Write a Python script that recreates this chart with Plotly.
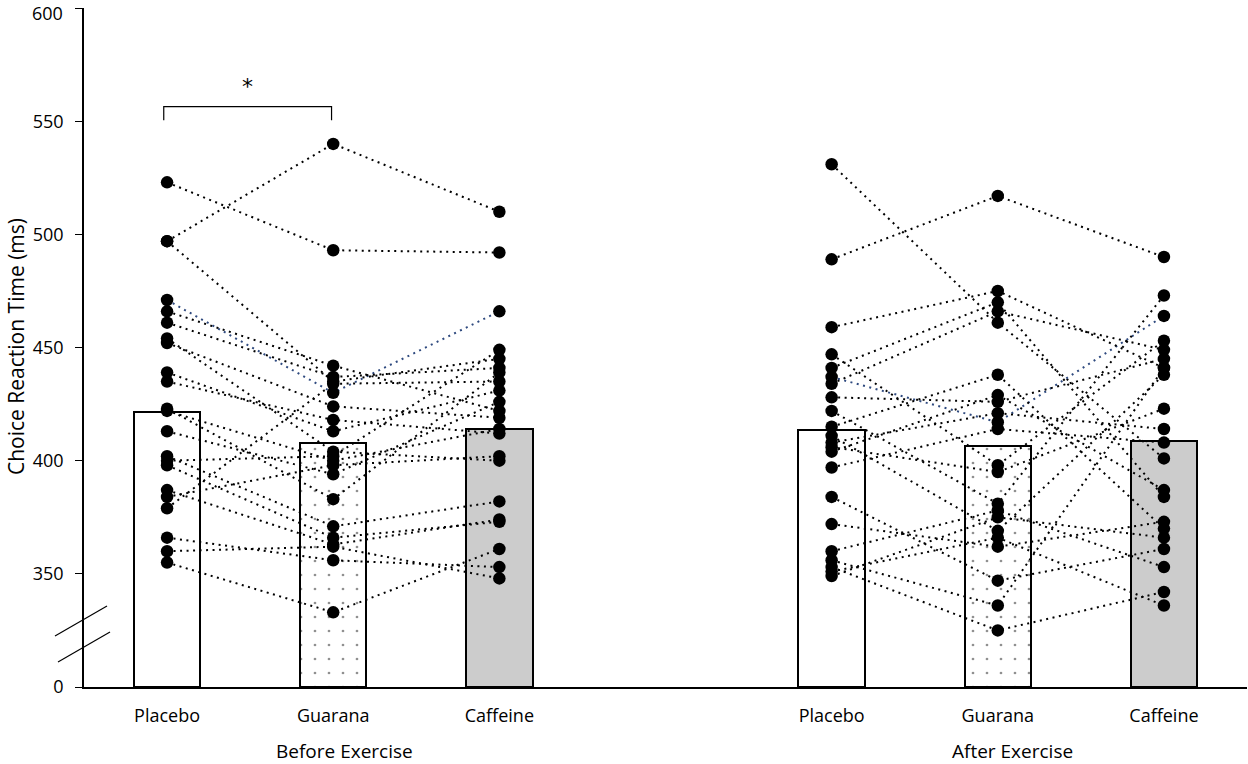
import plotly.graph_objects as go

# ---------------- data ----------------
treatments = ["Placebo", "Guarana", "Caffeine"]
phases = ["Before Exercise", "After Exercise"]
y_tick_values = [350, 400, 450, 500, 550, 600]
y_tick_labels = ["0", "350", "400", "450", "500", "550", "600"]

bar_before = [421.6, 407.9, 414.0]
bar_after = [413.6, 406.5, 408.7]

before_placebo = [523, 497, 497, 471, 466, 461, 454, 452, 439, 435, 423, 422, 413, 402, 400, 398, 387, 384, 379, 366, 360, 355]
before_guarana = [493, 540, 435, 430, 442, 437, 404, 424, 413, 418, 383, 400, 394, 371, 402, 366, 363, 398, 434, 356, 362, 333]
before_caffeine = [492, 510, 445, 466, 422, 441, 400, 419, 431, 412, 439, 414, 426, 382, 449, 373, 374, 402, 435, 353, 348, 361]

after_placebo = [531, 489, 437, 459, 447, 441, 434, 428, 422, 415, 411, 408, 406, 404, 397, 384, 372, 360, 356, 353, 351, 349]
after_guarana = [461, 517, 417, 475, 398, 470, 466, 426, 381, 438, 369, 421, 395, 429, 414, 347, 362, 378, 336, 325, 366, 375]
after_caffeine = [401, 490, 464, 441, 453, 384, 449, 445, 473, 370, 438, 414, 423, 387, 408, 361, 373, 353, 441, 342, 336, 366]

# subject highlighted in blue (index) per phase
blue_before = 3
blue_after = 2

significance = {"from": "Placebo", "to": "Guarana", "y": 556.5, "label": "*"}

# ---------------- layout helpers ----------------
BASE = 300  # value at which the broken axis shows "0"
pos_before = [0, 1, 2]
pos_after = [4, 5, 6]
FONT = "Open Sans"

fig = go.Figure()

bar_styles = [
    dict(color="white", line=dict(color="black", width=2)),
    dict(color="white", line=dict(color="black", width=2),
         pattern=dict(shape=".", size=14, solidity=0.03, fgcolor="#222222", bgcolor="white")),
    dict(color="#cccccc", line=dict(color="black", width=2)),
]

for positions, vals in [(pos_before, bar_before), (pos_after, bar_after)]:
    for i in range(3):
        fig.add_trace(go.Bar(
            x=[positions[i]], y=[vals[i] - BASE], base=[BASE], width=0.4,
            marker=bar_styles[i], showlegend=False, hoverinfo="skip"))


def add_subject_lines(positions, p, g, c, blue_idx):
    for k in range(len(p)):
        col = "#2F4A7F" if k == blue_idx else "black"
        fig.add_trace(go.Scatter(
            x=positions, y=[p[k], g[k], c[k]], mode="lines",
            line=dict(color=col, width=2, dash="2px,4.5px"),
            showlegend=False, hoverinfo="skip"))
    for k in range(len(p)):
        fig.add_trace(go.Scatter(
            x=positions, y=[p[k], g[k], c[k]], mode="markers",
            marker=dict(color="black", size=12.5),
            showlegend=False, hoverinfo="skip"))


add_subject_lines(pos_before, before_placebo, before_guarana, before_caffeine, blue_before)
add_subject_lines(pos_after, after_placebo, after_guarana, after_caffeine, blue_after)

# significance bracket
x0 = pos_before[treatments.index(significance["from"])] - 0.02
x1 = pos_before[treatments.index(significance["to"])] - 0.01
ys = significance["y"]
fig.add_trace(go.Scatter(
    x=[x0, x0, x1, x1], y=[ys - 6, ys, ys, ys - 6], mode="lines",
    line=dict(color="black", width=1.2), showlegend=False, hoverinfo="skip"))
fig.add_annotation(x=(x0 + x1) / 2, y=ys + 9, text=significance["label"], showarrow=False,
                   font=dict(family="DejaVu Sans", size=22, color="black"))

# axis-break marks (pixel positions converted to paper space)
PLOT_L, PLOT_R, PLOT_T, PLOT_B = 84, 1247, 8, 687
W, H = PLOT_R - PLOT_L, PLOT_B - PLOT_T


def px2paper(xp, yp):
    return (xp - PLOT_L) / W, (PLOT_B - yp) / H


for (ax, ay), (bx, by) in [((55, 636), (107, 606)), ((58, 662), (110, 632))]:
    p0 = px2paper(ax, ay)
    p1 = px2paper(bx, by)
    fig.add_shape(type="line", xref="paper", yref="paper",
                  x0=p0[0], y0=p0[1], x1=p1[0], y1=p1[1],
                  line=dict(color="black", width=1.2))

# top tick label placed as annotation so it is not clipped at the page edge
fig.add_annotation(x=px2paper(64, 0)[0], y=px2paper(0, 0)[1], xref="paper", yref="paper",
                   text=y_tick_labels[-1], showarrow=False, xanchor="right", yanchor="top",
                   borderpad=0, font=dict(family=FONT, size=18, color="black"))
tick_text_axis = y_tick_labels[:-1] + [""]

# group labels
for positions, label, dx in [(pos_before, phases[0], 0.07), (pos_after, phases[1], 0.09)]:
    fig.add_annotation(x=positions[1] + dx, y=px2paper(0, 751)[1], xref="x", yref="paper",
                       text=label, showarrow=False, yanchor="middle", xanchor="center",
                       font=dict(family=FONT, size=19, color="black"))

# y axis title
fig.add_annotation(x=px2paper(16, 0)[0], y=px2paper(0, 347)[1], xref="paper", yref="paper",
                   text="Choice Reaction Time (ms)", textangle=-90, showarrow=False,
                   xanchor="center", yanchor="middle", borderpad=0,
                   font=dict(family=FONT, size=21, color="black"))

fig.update_layout(
    width=1248, height=764,
    margin=dict(l=PLOT_L, r=1248 - PLOT_R, t=PLOT_T, b=764 - PLOT_B),
    paper_bgcolor="white", plot_bgcolor="white",
    barmode="overlay", bargap=0,
    xaxis=dict(range=[-0.5, 6.5], tickvals=pos_before + pos_after,
               ticktext=treatments + treatments, showline=True, linecolor="black",
               linewidth=1.5, ticks="", showgrid=False, zeroline=False,
               ticklabelstandoff=12, automargin=False,
               tickfont=dict(family=FONT, size=18, color="black")),
    yaxis=dict(range=[BASE, 600.05], tickvals=[BASE] + y_tick_values, ticktext=tick_text_axis,
               showline=True, linecolor="black", linewidth=1.5, ticks="outside",
               ticklen=7, tickcolor="black", tickwidth=1.2, showgrid=False, zeroline=False,
               ticklabelstandoff=8, ticklabeloverflow="allow", automargin=False,
               tickfont=dict(family=FONT, size=18, color="black")),
)

fig.write_html("out.html", config={"displayModeBar": False},
               post_script="document.body.style.margin='0';")
